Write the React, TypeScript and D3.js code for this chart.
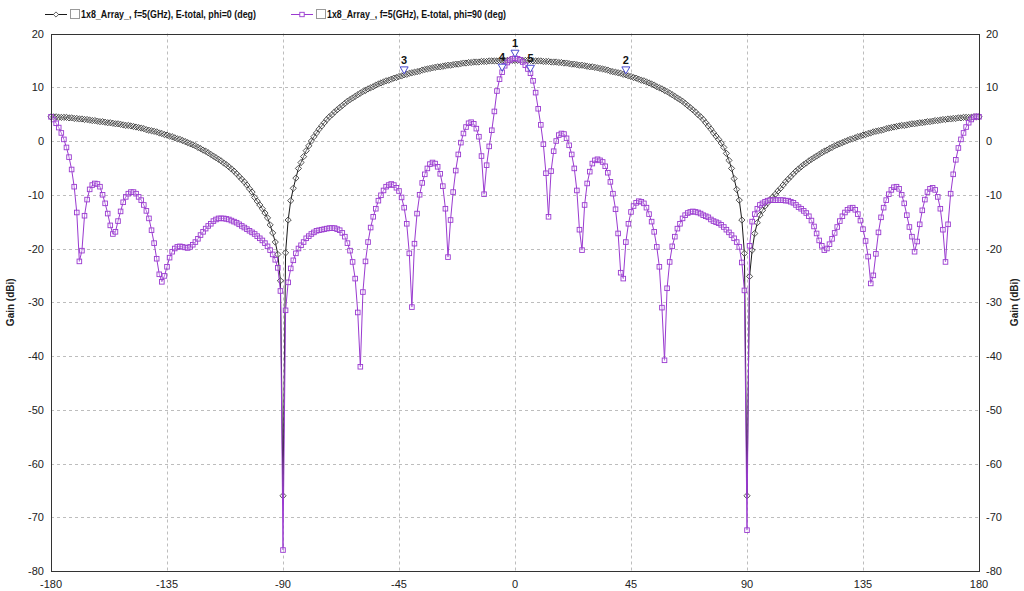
import React from "react";
import * as d3 from "d3";

// ---------- data ----------
const angles: number[] = d3.range(-180, 181, 1);

// phi = 0 deg (black)
const gainPhi0: number[] = [
  4.5, 4.5, 4.5, 4.4, 4.4, 4.4, 4.4, 4.3, 4.3, 4.2, // -180
  4.2, 4.1, 4.1, 4.0, 4.0, 3.9, 3.8, 3.8, 3.7, 3.6, // -170
  3.6, 3.5, 3.4, 3.4, 3.3, 3.2, 3.2, 3.1, 3.0, 2.9, // -160
  2.9, 2.8, 2.7, 2.6, 2.5, 2.4, 2.3, 2.1, 2.0, 1.9, // -150
  1.8, 1.7, 1.5, 1.4, 1.2, 1.1, 0.9, 0.8, 0.6, 0.4, // -140
  0.3, 0.1, -0.1, -0.3, -0.5, -0.7, -0.9, -1.2, -1.4, -1.7, // -130
  -1.9, -2.2, -2.5, -2.8, -3.1, -3.4, -3.7, -4.1, -4.4, -4.8, // -120
  -5.2, -5.6, -6.1, -6.6, -7.1, -7.6, -8.2, -8.9, -9.5, -10.5, // -110
  -11.2, -11.9, -12.6, -13.4, -14.3, -15.6, -17.1, -18.8, -21.1, -26.0, // -100
  -66.0, -20.8, -14.7, -11.1, -8.8, -6.9, -5.1, -4.0, -2.9, -1.8, // -90
  -0.9, 0.0, 0.8, 1.5, 2.2, 2.8, 3.4, 4.0, 4.5, 4.9, // -80
  5.4, 5.8, 6.2, 6.6, 7.0, 7.4, 7.7, 8.0, 8.3, 8.6, // -70
  8.9, 9.2, 9.4, 9.7, 9.9, 10.1, 10.4, 10.6, 10.8, 11.0, // -60
  11.2, 11.3, 11.5, 11.7, 11.8, 12.0, 12.1, 12.3, 12.4, 12.6, // -50
  12.7, 12.8, 12.9, 13.0, 13.2, 13.3, 13.4, 13.5, 13.6, 13.7, // -40
  13.8, 13.8, 13.9, 14.0, 14.1, 14.1, 14.2, 14.3, 14.3, 14.4, // -30
  14.5, 14.5, 14.6, 14.6, 14.7, 14.7, 14.7, 14.8, 14.8, 14.8, // -20
  14.9, 14.9, 14.9, 14.9, 15.0, 15.0, 15.0, 15.0, 15.0, 15.0, // -10
  15.0, 15.0, 15.0, 15.0, 15.0, 15.0, 15.0, 14.9, 14.9, 14.9, // 0
  14.9, 14.8, 14.8, 14.8, 14.7, 14.7, 14.7, 14.6, 14.6, 14.5, // 10
  14.5, 14.4, 14.3, 14.3, 14.2, 14.1, 14.1, 14.0, 13.9, 13.8, // 20
  13.8, 13.7, 13.6, 13.5, 13.4, 13.3, 13.2, 13.0, 12.9, 12.8, // 30
  12.7, 12.6, 12.4, 12.3, 12.1, 12.0, 11.8, 11.7, 11.5, 11.3, // 40
  11.2, 11.0, 10.8, 10.6, 10.4, 10.1, 9.9, 9.7, 9.4, 9.2, // 50
  8.9, 8.6, 8.3, 8.0, 7.7, 7.4, 7.0, 6.6, 6.2, 5.8, // 60
  5.4, 4.9, 4.5, 4.0, 3.4, 2.8, 2.2, 1.5, 0.9, 0.3, // 70
  -0.4, -1.2, -2.3, -3.6, -5.1, -7.0, -9.0, -11.0, -14.7, -20.9, // 80
  -66.0, -25.2, -20.3, -17.2, -15.2, -13.8, -12.9, -12.1, -11.5, -10.9, // 90
  -10.4, -9.9, -9.3, -8.8, -8.2, -7.6, -7.1, -6.6, -6.1, -5.6, // 100
  -5.2, -4.8, -4.4, -4.1, -3.7, -3.4, -3.1, -2.8, -2.5, -2.2, // 110
  -1.9, -1.7, -1.4, -1.2, -0.9, -0.7, -0.5, -0.3, -0.1, 0.1, // 120
  0.3, 0.4, 0.6, 0.8, 0.9, 1.1, 1.2, 1.4, 1.5, 1.7, // 130
  1.8, 1.9, 2.0, 2.1, 2.3, 2.4, 2.5, 2.6, 2.7, 2.8, // 140
  2.9, 2.9, 3.0, 3.1, 3.2, 3.2, 3.3, 3.4, 3.4, 3.5, // 150
  3.6, 3.6, 3.7, 3.8, 3.8, 3.9, 4.0, 4.0, 4.1, 4.1, // 160
  4.2, 4.2, 4.3, 4.3, 4.4, 4.4, 4.4, 4.4, 4.5, 4.5, // 170
  4.5, // 180
];

// phi = 90 deg (purple)
const gainPhi90: number[] = [
  4.5, 4.0, 3.3, 2.5, 1.5, 0.3, -1.2, -3.0, -5.3, -8.5, // -180
  -13.3, -22.4, -20.4, -13.9, -10.9, -9.0, -8.2, -7.9, -8.0, -8.5, // -170
  -10.0, -11.6, -13.5, -15.7, -17.3, -16.9, -14.9, -13.1, -11.4, -10.4, // -160
  -9.8, -9.5, -9.5, -9.8, -10.4, -11.0, -11.9, -13.0, -14.4, -16.6, // -150
  -19.0, -21.9, -24.8, -26.2, -25.1, -23.4, -21.7, -20.6, -20.0, -19.7, // -140
  -19.6, -19.7, -19.8, -19.9, -19.7, -19.3, -18.8, -18.2, -17.5, -16.9, // -130
  -16.3, -15.8, -15.4, -14.9, -14.6, -14.4, -14.4, -14.4, -14.5, -14.6, // -120
  -14.8, -15.0, -15.2, -15.5, -15.8, -16.1, -16.4, -16.7, -17.0, -17.3, // -110
  -17.7, -18.1, -18.5, -19.0, -19.6, -20.3, -21.1, -22.1, -23.6, -27.9, // -100
  -76.1, -31.5, -26.3, -23.7, -22.2, -20.9, -20.0, -19.4, -18.8, -18.1, // -90
  -17.7, -17.3, -17.0, -16.7, -16.6, -16.5, -16.4, -16.3, -16.2, -16.2, // -80
  -16.2, -16.4, -16.6, -17.1, -17.8, -19.0, -20.4, -22.5, -25.6, -31.9, // -70
  -42.0, -28.1, -22.4, -18.8, -16.1, -14.1, -12.6, -11.1, -10.1, -9.2, // -60
  -8.5, -8.2, -8.0, -8.2, -8.7, -9.3, -10.5, -12.4, -15.4, -20.9, // -50
  -30.9, -19.1, -13.5, -10.0, -7.8, -6.2, -5.1, -4.3, -4.0, -4.2, // -40
  -4.8, -6.1, -8.4, -12.6, -21.6, -14.7, -9.5, -5.5, -2.5, -0.3, // -30
  1.4, 2.6, 3.3, 3.5, 3.2, 2.3, 0.8, -2.8, -9.9, -4.5, // -20
  -1.0, 2.0, 5.5, 9.3, 11.5, 12.8, 14.0, 14.6, 15.0, 15.3, // -10
  15.4, 15.3, 15.1, 14.7, 14.1, 13.4, 12.6, 11.2, 9.0, 6.0, // 0
  3.0, -0.6, -6.0, -14.1, -5.6, -1.9, 0.0, 1.1, 1.4, 1.3, // 10
  0.5, -0.8, -2.5, -5.1, -9.2, -16.5, -20.3, -11.9, -7.9, -5.7, // 20
  -4.2, -3.6, -3.4, -3.6, -3.9, -4.7, -5.9, -7.6, -9.8, -12.7, // 30
  -17.2, -24.5, -25.6, -18.8, -15.4, -13.2, -12.1, -11.5, -11.2, -11.3, // 40
  -11.6, -12.4, -13.6, -15.0, -16.9, -19.7, -23.4, -31.0, -40.8, -27.4, // 50
  -22.5, -19.6, -17.8, -16.3, -15.4, -14.4, -13.8, -13.4, -13.2, -13.1, // 60
  -13.2, -13.3, -13.5, -13.8, -14.0, -14.2, -14.6, -14.9, -15.1, -15.3, // 70
  -15.6, -16.0, -16.5, -17.0, -17.5, -18.1, -18.8, -19.7, -22.6, -27.8, // 80
  -72.4, -19.5, -15.0, -13.6, -12.6, -11.9, -11.6, -11.3, -11.1, -11.0, // 90
  -11.0, -11.0, -11.0, -11.0, -11.0, -11.1, -11.1, -11.3, -11.5, -11.9, // 100
  -12.3, -12.6, -13.0, -13.4, -14.0, -14.8, -15.9, -17.2, -18.5, -19.5, // 110
  -20.3, -20.0, -19.2, -18.2, -17.1, -16.0, -14.9, -14.0, -13.3, -12.8, // 120
  -12.5, -12.4, -12.8, -13.6, -14.8, -16.4, -18.6, -21.5, -26.5, -25.0, // 130
  -21.0, -17.0, -14.2, -12.4, -11.0, -9.9, -9.1, -8.6, -8.5, -8.9, // 140
  -10.0, -11.6, -13.8, -16.0, -17.8, -20.6, -18.7, -15.5, -12.9, -10.9, // 150
  -9.5, -8.9, -8.7, -9.1, -10.4, -12.6, -16.5, -22.5, -15.5, -9.8, // 160
  -6.2, -3.5, -1.3, 0.3, 1.5, 2.6, 3.4, 4.0, 4.4, 4.6, // 170
  4.5, // 180
];

const xTicks: number[] = [-180, -135, -90, -45, 0, 45, 90, 135, 180];
const yTicks: number[] = [20, 10, 0, -10, -20, -30, -40, -50, -60, -70, -80];

const seriesNames: string[] = [
  "1x8_Array_, f=5(GHz), E-total, phi=0 (deg)",
  "1x8_Array_, f=5(GHz), E-total, phi=90 (deg)",
];

// data markers: label, angle, series index
const markerLabels: string[] = ["1", "2", "3", "4", "5"];
const markerAngles: number[] = [0, 43, -43, -5, 6];
const markerSeries: number[] = [1, 0, 0, 1, 1];

// ---------- chart ----------
const W = 1024;
const H = 591;
const PL = 51, PR = 979, PT = 33.5, PB = 571;
const FONT = "'Liberation Sans', Arial, sans-serif";
const BLACK = "#1a1a1a";
const PURPLE = "#9a3ad0";

export default function App() {
  const x = d3.scaleLinear().domain([-180, 180]).range([PL, PR]);
  const y = d3.scaleLinear().domain([-80, 20]).range([PB, PT]);
  const series = [gainPhi0, gainPhi90];

  const line = (vals: number[]) =>
    d3
      .line<number>()
      .x((_, i) => x(angles[i]))
      .y((v) => y(v))(vals) || "";

  const diamond = (cx: number, cy: number, r = 3) =>
    `M${cx},${cy - r}L${cx + r},${cy}L${cx},${cy + r}L${cx - r},${cy}Z`;

  return (
    <svg
      width={W}
      height={H}
      style={{ position: "absolute", left: 0, top: 0, background: "#fff" }}
      fontFamily={FONT}
    >
      <rect x={0} y={0} width={W} height={H} fill="#fff" />

      {/* grid */}
      {xTicks.slice(1, -1).map((t) => (
        <line
          key={"gx" + t}
          x1={Math.round(x(t)) + 0.5}
          x2={Math.round(x(t)) + 0.5}
          y1={PT}
          y2={PB}
          stroke="#bdbdbd"
          strokeDasharray="3,3"
        />
      ))}
      {yTicks.slice(1, -1).map((t) => (
        <line
          key={"gy" + t}
          x1={PL}
          x2={PR}
          y1={Math.round(y(t)) + 0.5}
          y2={Math.round(y(t)) + 0.5}
          stroke="#bdbdbd"
          strokeDasharray="3,3"
        />
      ))}

      {/* series 0: black with diamonds */}
      <path d={line(gainPhi0)} fill="none" stroke={BLACK} strokeWidth={1} />
      {gainPhi0.map((v, i) => (
        <path
          key={"d" + i}
          d={diamond(x(angles[i]), y(v), 3.1)}
          fill="#fff"
          fillOpacity={0.3}
          stroke="#333"
          strokeWidth={0.85}
        />
      ))}

      {/* series 1: purple with squares */}
      <path d={line(gainPhi90)} fill="none" stroke={PURPLE} strokeWidth={1} />
      {gainPhi90.map((v, i) => (
        <rect
          key={"s" + i}
          x={x(angles[i]) - 2.3}
          y={y(v) - 2.3}
          width={4.6}
          height={4.6}
          fill="#fff"
          fillOpacity={0.3}
          stroke={PURPLE}
          strokeWidth={0.9}
        />
      ))}

      {/* frame */}
      <rect
        x={PL + 0.5}
        y={Math.round(PT) + 0.5}
        width={PR - PL}
        height={Math.round(PB) - Math.round(PT)}
        fill="none"
        stroke="#333"
        strokeWidth={1}
      />

      {/* axis tick labels */}
      {yTicks.map((t) => (
        <text key={"yl" + t} x={44} y={y(t) + 4} textAnchor="end" fontSize={11} fill="#222">
          {t}
        </text>
      ))}
      {yTicks.map((t) => (
        <text key={"yr" + t} x={986} y={y(t) + 4} textAnchor="start" fontSize={11} fill="#222">
          {t}
        </text>
      ))}
      {xTicks.map((t) => (
        <text key={"xl" + t} x={x(t)} y={588} textAnchor="middle" fontSize={11} fill="#222">
          {t}
        </text>
      ))}

      {/* axis titles */}
      <text
        transform={`translate(14,${(PT + PB) / 2}) rotate(-90)`}
        textAnchor="middle"
        fontSize={10}
        fontWeight="bold"
        fill="#222"
      >
        Gain (dBi)
      </text>
      <text
        transform={`translate(1018,${(PT + PB) / 2}) rotate(-90)`}
        textAnchor="middle"
        fontSize={10}
        fontWeight="bold"
        fill="#222"
      >
        Gain (dBi)
      </text>

      {/* data markers */}
      {markerLabels.map((lab, i) => {
        const cx = x(markerAngles[i]);
        const v = series[markerSeries[i]][angles.indexOf(markerAngles[i])];
        const tip = y(v) - 1;
        return (
          <g key={"m" + lab}>
            <path
              d={`M${cx - 4},${tip - 7}L${cx + 4},${tip - 7}L${cx},${tip}Z`}
              fill="#fff"
              stroke="#4a4ad0"
              strokeWidth={1}
            />
            <text x={cx} y={tip - 10} textAnchor="middle" fontSize={11} fontWeight="bold" fill="#111">
              {lab}
            </text>
          </g>
        );
      })}

      {/* legend */}
      {seriesNames.map((name, i) => {
        const lx = i === 0 ? 45 : 291;
        const ly = 14;
        const col = i === 0 ? BLACK : PURPLE;
        return (
          <g key={"lg" + i}>
            <line x1={lx} x2={lx + 22} y1={ly + 0.5} y2={ly + 0.5} stroke={col} strokeWidth={1} />
            {i === 0 ? (
              <path d={diamond(lx + 11, ly + 0.5, 2.6)} fill="#fff" stroke="#3a3a3a" strokeWidth={0.8} />
            ) : (
              <rect x={lx + 8.8} y={ly - 1.7} width={4.4} height={4.4} fill="#fff" stroke={PURPLE} strokeWidth={0.9} />
            )}
            <rect x={lx + 25.5} y={ly - 4.5} width={9} height={9} fill="#fff" stroke="#999" strokeWidth={1} />
            <text
              x={lx + 36}
              y={ly + 4}
              fontSize={10}
              fontWeight="bold"
              fill="#111"
              textLength={i === 0 ? 175 : 179}
              lengthAdjust="spacingAndGlyphs"
            >
              {name}
            </text>
          </g>
        );
      })}
    </svg>
  );
}
